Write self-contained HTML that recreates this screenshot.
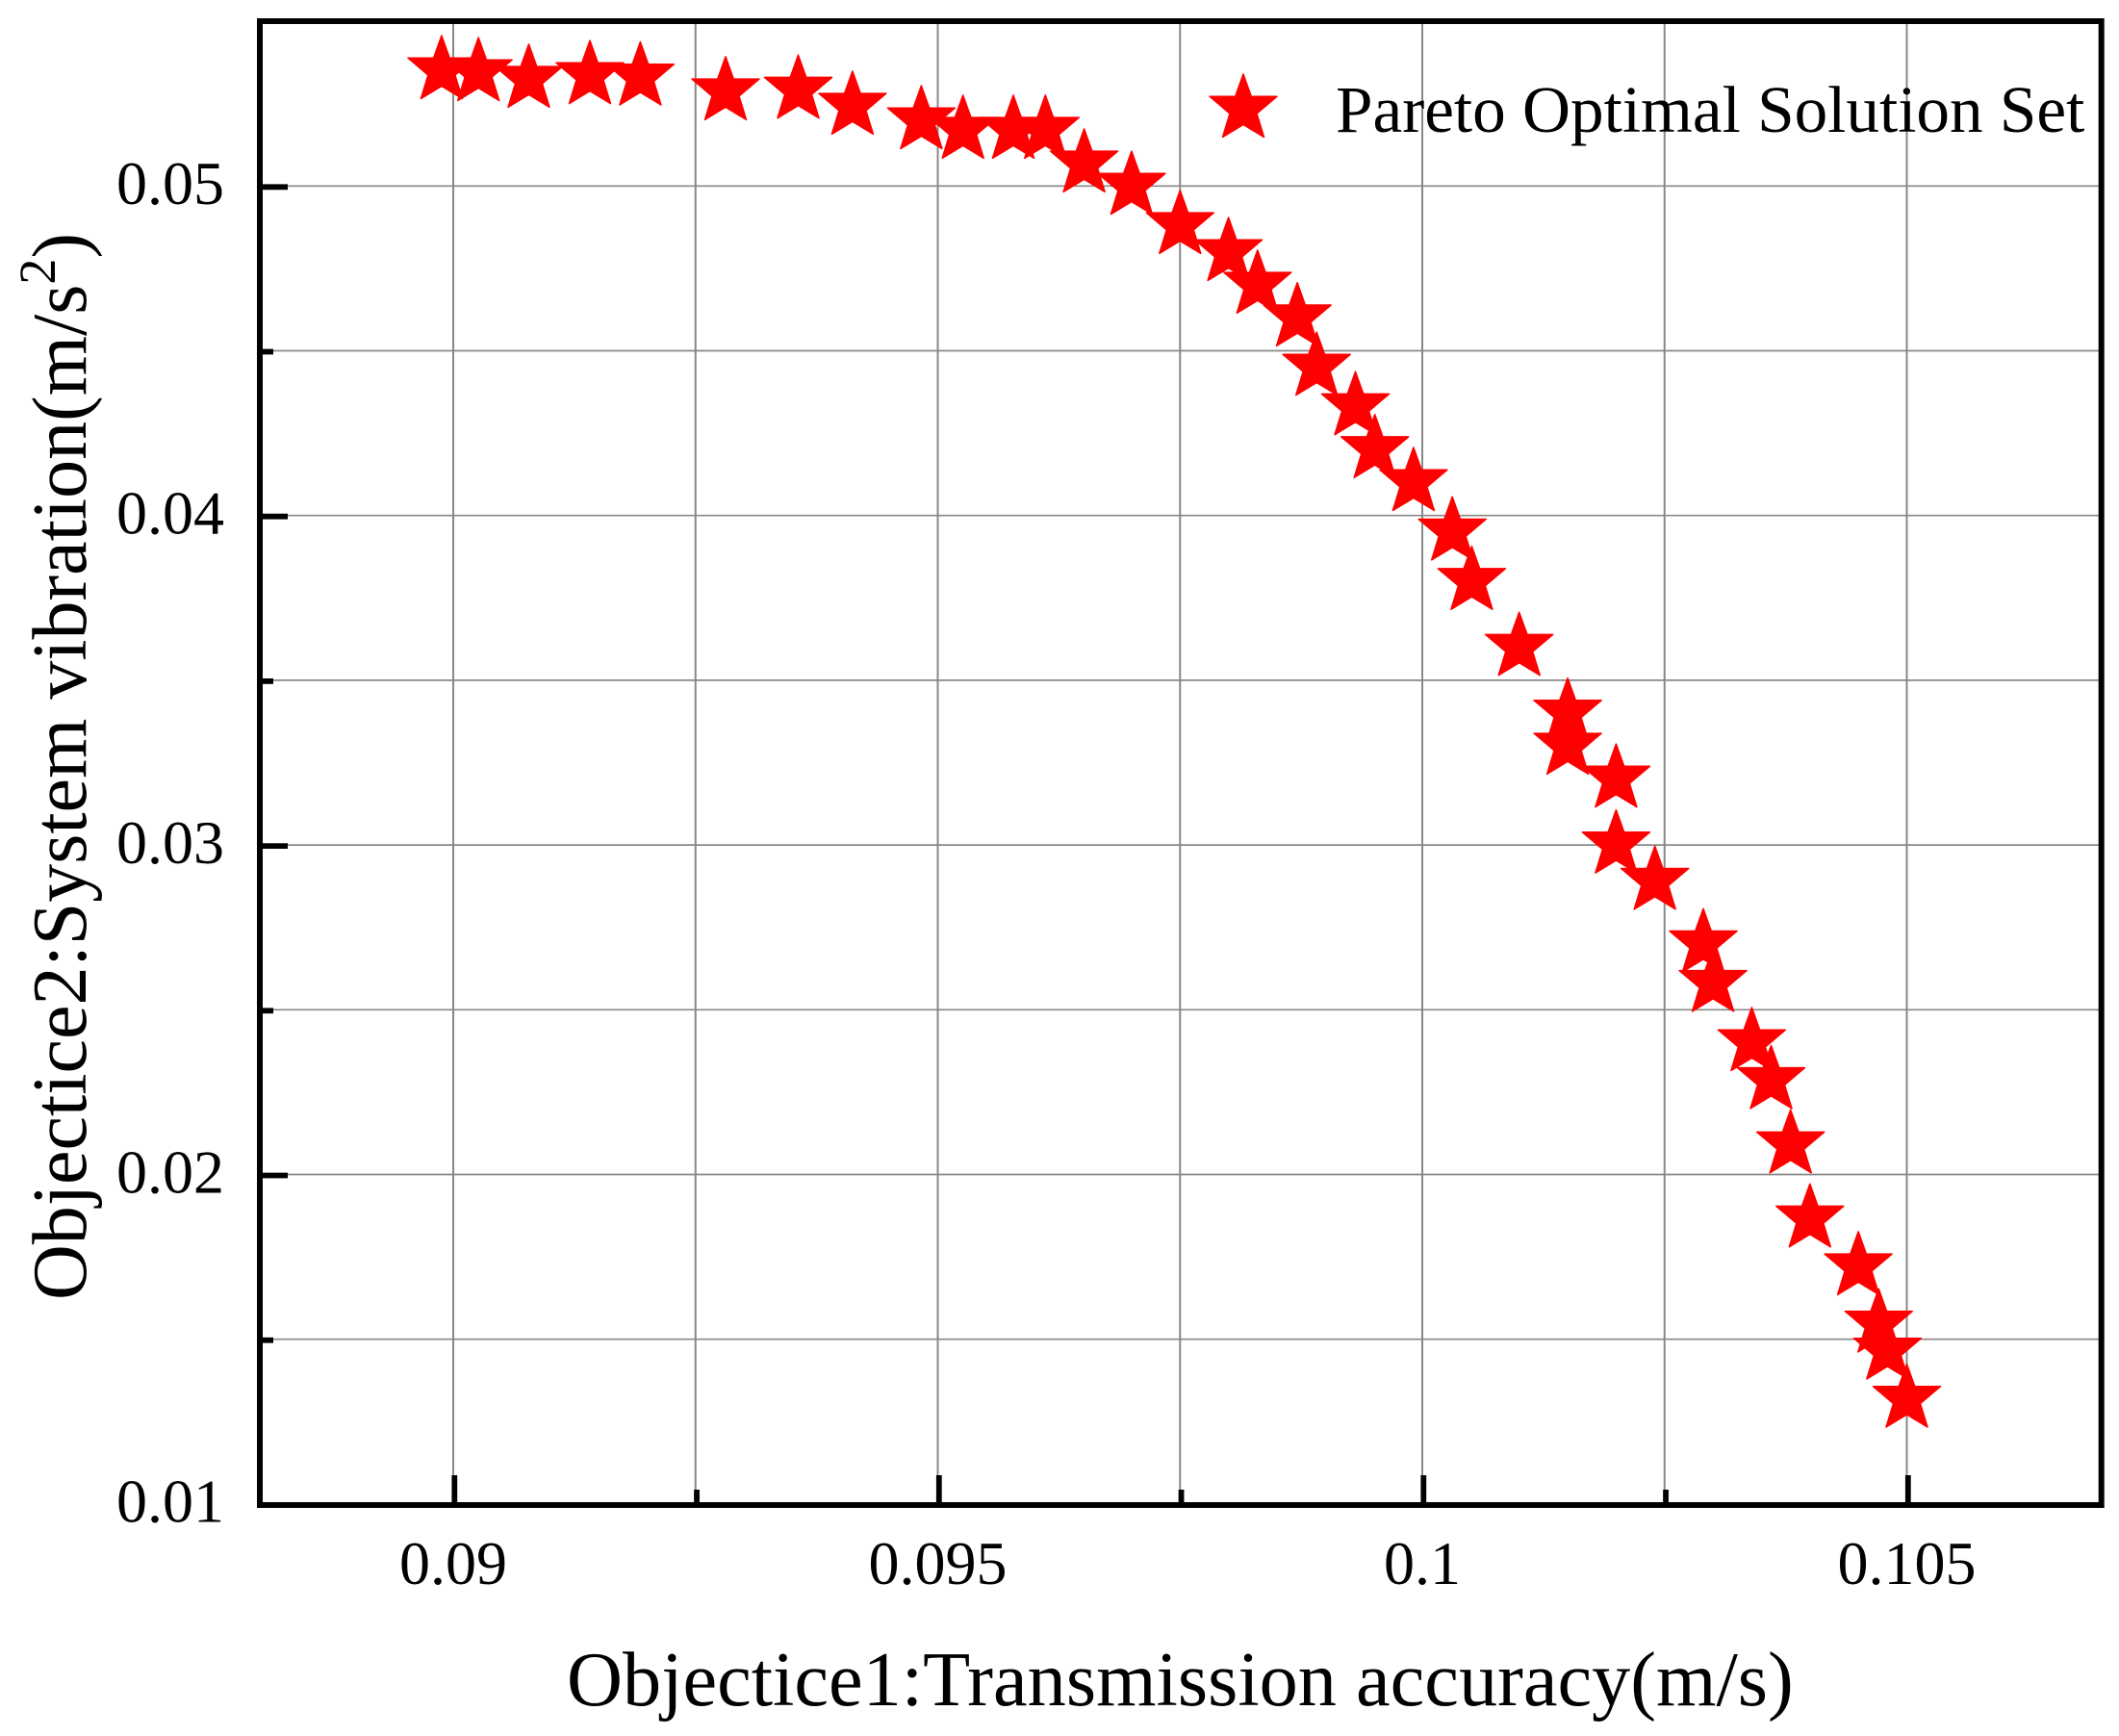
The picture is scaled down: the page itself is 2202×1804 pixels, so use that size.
<!DOCTYPE html>
<html lang="en">
<head>
<meta charset="utf-8">
<title>Pareto Optimal Solution Set</title>
<style>
html,body{margin:0;padding:0;background:#fff;width:2202px;height:1804px;overflow:hidden}
svg{display:block}
text{font-family:"Liberation Serif",serif;fill:#000}
</style>
</head>
<body>
<svg id="chart" xmlns="http://www.w3.org/2000/svg" width="2202" height="1804" viewBox="0 0 2202 1804">
<rect x="0" y="0" width="2202" height="1804" fill="#fff"/>
<g id="grid"></g>
<g id="stars"></g>
<g id="ticks"></g>
<rect x="270" y="22" width="1913.7" height="1542" fill="none" stroke="#000" stroke-width="6"/>
<g id="labels"></g>
<text x="589" y="1772" font-size="80.3">Objectice1:Transmission accuracy(m/s)</text>
<text transform="translate(89,1351) rotate(-90)" font-size="80">Objectice2:System vibration(m/s<tspan font-size="54" dy="-32">2</tspan><tspan dy="32">)</tspan></text>
<g id="legend">
<text x="1388" y="137" font-size="69.2">Pareto Optimal Solution Set</text>
</g>
</svg>
<script>
const xValues = [0.08988,0.09026,0.09078,0.09141,0.09193,0.09281,0.09356,0.09412,0.09483,0.09526,0.09578,0.09611,0.09651,0.097,0.0975,0.098,0.0983,0.09871,0.09891,0.09931,0.09951,0.09991,0.10031,0.10051,0.101,0.1015,0.1015,0.102,0.102,0.1024,0.1029,0.103,0.1034,0.1036,0.1038,0.104,0.1045,0.10471,0.1048,0.105];
const yValues = [0.0535,0.05344,0.05324,0.05335,0.05331,0.05286,0.05291,0.05242,0.05198,0.05169,0.05169,0.05169,0.05067,0.04999,0.0488,0.04798,0.04699,0.046,0.0445,0.0433,0.042,0.041,0.0395,0.038,0.036,0.034,0.033,0.032,0.03,0.0289,0.027,0.0258,0.024,0.02285,0.0209,0.01865,0.0172,0.01546,0.01464,0.01318];
const xMajorTicks = [0.09,0.095,0.1,0.105];
const xMinorTicks = [0.0925,0.0975,0.1025];
const yMajorTicks = [0.02,0.03,0.04,0.05];
const yMinorTicks = [0.015,0.025,0.035,0.045];
const xTickLabels = ["0.09","0.095","0.1","0.105"];
const yTickValues = [0.01,0.02,0.03,0.04,0.05];
const yTickLabels = ["0.01","0.02","0.03","0.04","0.05"];

const NS = "http://www.w3.org/2000/svg";
const xScale = v => 471 + (v - 0.09) * 100700;
const yScale = v => 193.3 + (0.05 - v) * 34240;
const starShape = [[0,-36.5],[8.3,-13.3],[35,-13.3],[14,4.5],[21.5,29],[0,16],[-21.5,29],[-14,4.5],[-35,-13.3],[-8.3,-13.3]];
function starPoints(cx, cy) {
  return starShape.map(p => (cx + p[0]).toFixed(1) + "," + (cy + p[1]).toFixed(1)).join(" ");
}
function make(tag, parent) {
  const el = document.createElementNS(NS, tag);
  parent.appendChild(el);
  return el;
}
function line(el, x1, y1, x2, y2, color, width) {
  el.setAttribute("x1", x1);
  el.setAttribute("y1", y1);
  el.setAttribute("x2", x2);
  el.setAttribute("y2", y2);
  el.setAttribute("stroke", color);
  el.setAttribute("stroke-width", width);
}
const grid = document.getElementById("grid");
const ticks = document.getElementById("ticks");
const labels = document.getElementById("labels");
const stars = document.getElementById("stars");
const legend = document.getElementById("legend");

xMajorTicks.concat(xMinorTicks).forEach(v => {
  const g = make("line", grid);
  
  
  line(g, xScale(v), 22, xScale(v), 1564, "#888", 2);
});
yMajorTicks.concat(yMinorTicks).forEach(v => {
  const g = make("line", grid);
  
  
  line(g, 270, yScale(v), 2183, yScale(v), "#888", 1.7);
});
xMajorTicks.forEach(v => {
  const t = make("line", ticks);
  
  
  line(t, xScale(v) + 1.3, 1533, xScale(v) + 1.3, 1564, "#000", 5.8);
});
xMinorTicks.forEach(v => {
  const t = make("line", ticks);
  
  
  line(t, xScale(v) + 1.3, 1548, xScale(v) + 1.3, 1564, "#000", 5.8);
});
yMajorTicks.forEach(v => {
  const t = make("line", ticks);
  
  
  line(t, 270, yScale(v) + 1, 299, yScale(v) + 1, "#000", 5.8);
});
yMinorTicks.forEach(v => {
  const t = make("line", ticks);
  
  
  line(t, 270, yScale(v) + 1, 284, yScale(v) + 1, "#000", 5.8);
});
xMajorTicks.forEach((v, i) => {
  const t = make("text", labels);
  
  
  t.setAttribute("x", xScale(v));
  t.setAttribute("y", 1646);
  t.setAttribute("font-size", 64);
  t.setAttribute("text-anchor", "middle");
  t.textContent = xTickLabels[i];
});
yTickValues.forEach((v, i) => {
  const t = make("text", labels);
  
  
  t.setAttribute("x", 233);
  t.setAttribute("y", yScale(v) + 18.8);
  t.setAttribute("font-size", 64);
  t.setAttribute("text-anchor", "end");
  t.textContent = yTickLabels[i];
});
xValues.forEach((v, i) => {
  const s = make("polygon", stars);
  
  
  s.setAttribute("points", starPoints(xScale(v), yScale(yValues[i])));
  s.setAttribute("fill", "#f00");
  s.setAttribute("stroke", "#f00");
  s.setAttribute("stroke-width", "1.5");
  s.setAttribute("stroke-linejoin", "round");
});
const legendStar = make("polygon", legend);


legendStar.setAttribute("points", starPoints(1292, 113.5));
legendStar.setAttribute("fill", "#f00");
legendStar.setAttribute("stroke", "#f00");
legendStar.setAttribute("stroke-width", "1.5");
legendStar.setAttribute("stroke-linejoin", "round");
</script>
</body>
</html>
